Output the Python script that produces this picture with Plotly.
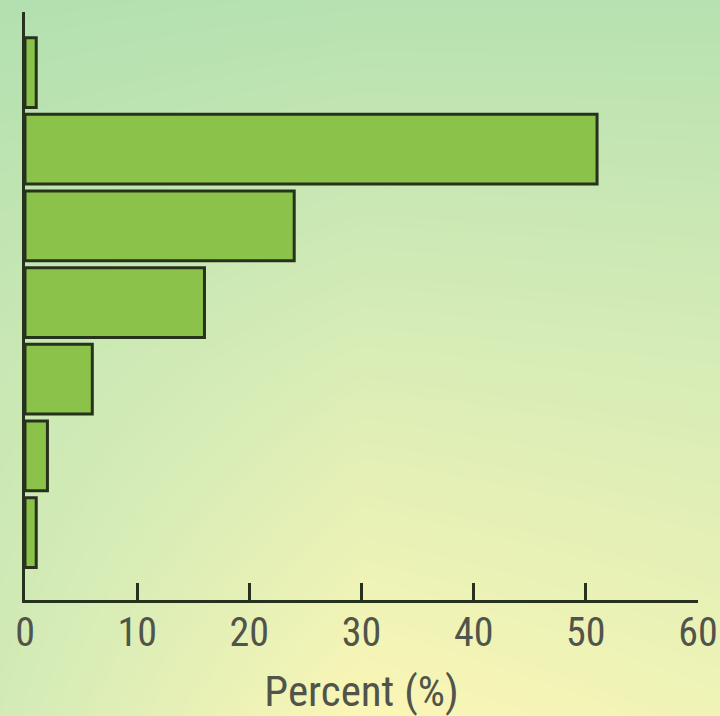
import plotly.graph_objects as go

# ---- data ----
categories = ["g1", "g2", "g3", "g4", "g5", "g6", "g7"]
percent = [1, 51, 24, 16, 6, 2, 1]
x_ticks = [0, 10, 20, 30, 40, 50, 60]
x_title = "Percent (%)"

# background gradient anchor values (style only)
bg_x = [0, 0.5, 1]
bg_y = [0, 0.5, 1]
bg_z = [[0.45, 1.0, 0.85],
        [0.30, 0.55, 0.50],
        [0.00, 0.05, 0.05]]
bg_scale = [[0.0, "#b3e0b0"], [0.5, "#d6ecb6"], [1.0, "#fbf6b6"]]

FONT = "Liberation Sans Narrow, Roboto Condensed, DejaVu Sans Condensed, Arial Narrow, sans-serif"
DARK = "#27321c"
TEXT = "#50544a"

fig = go.Figure()

fig.add_trace(go.Heatmap(
    x=bg_x, y=bg_y, z=bg_z, colorscale=bg_scale, zsmooth="best",
    showscale=False, hoverinfo="skip", xaxis="x", yaxis="y",
))

fig.add_trace(go.Bar(
    x=percent, y=categories, orientation="h",
    marker=dict(color="#8bc34a", line=dict(color=DARK, width=3)),
    width=0.91, xaxis="x2", yaxis="y2", hoverinfo="skip",
))

W, H = 720, 716
fig.update_layout(
    width=W, height=H, autosize=False,
    margin=dict(l=0, r=0, t=0, b=0),
    paper_bgcolor="#d6ecb6", plot_bgcolor="rgba(0,0,0,0)",
    showlegend=False,
    font=dict(family=FONT, color=TEXT),
    xaxis=dict(domain=[0, 1], range=[0, 1], visible=False, fixedrange=True),
    yaxis=dict(domain=[0, 1], range=[0, 1], visible=False, fixedrange=True),
    xaxis2=dict(
        domain=[25 / W, 698 / W], range=[0, 60], anchor="y2",
        tickvals=x_ticks, ticktext=[str(t) for t in x_ticks],
        showline=True, linecolor=DARK, linewidth=3,
        ticks="inside", ticklen=17, tickwidth=3, tickcolor=DARK,
        showgrid=False, zeroline=False, automargin=False,
        tickfont=dict(size=40, color=TEXT, family=FONT),
        ticklabelstandoff=-5,
        title=dict(text=x_title, font=dict(size=43, color=TEXT, family=FONT), standoff=21),
    ),
    yaxis2=dict(
        domain=[1 - 600 / H, 1 - 12 / H], anchor="x2",
        type="category", categoryorder="array", categoryarray=categories,
        range=[6.88, -0.79],
        showline=True, linecolor=DARK, linewidth=3,
        showticklabels=False, ticks="", showgrid=False, zeroline=False,
        automargin=False,
    ),
)

fig.write_html(
    "out.html",
    config={"displayModeBar": False},
    post_script="document.body.style.margin='0';document.body.style.overflow='hidden';",
)
